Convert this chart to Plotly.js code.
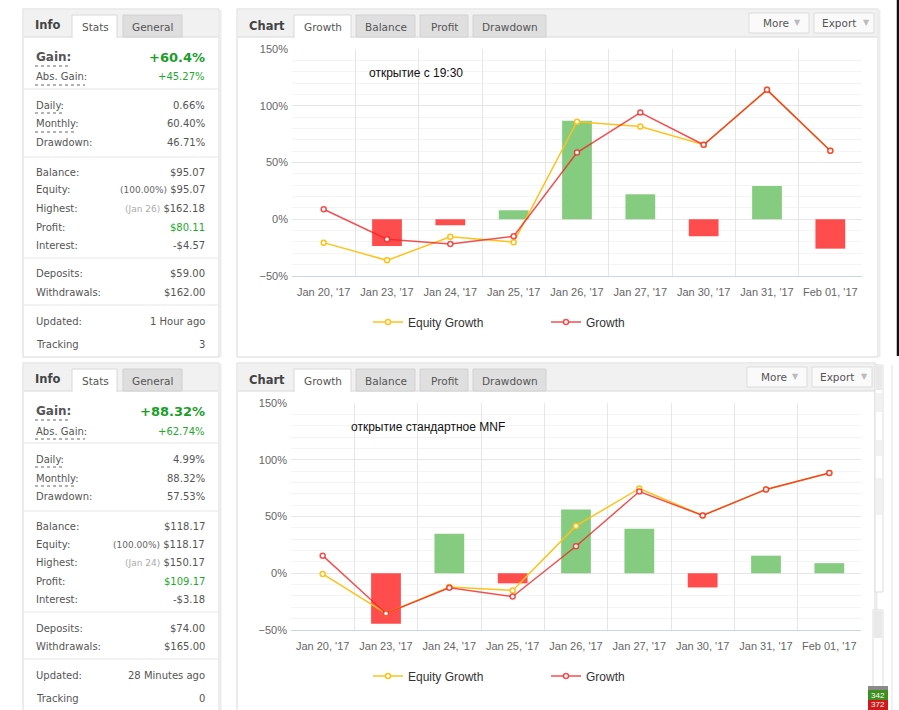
<!DOCTYPE html>
<html>
<head>
<meta charset="utf-8">
<script src="https://cdn.plot.ly/plotly-3.0.1.min.js"></script>
<style>
  html, body { margin: 0; padding: 0; background: #ffffff; }
  #board { width: 899px; height: 710px; }
</style>
</head>
<body>
<div id="board"></div>
<script>
// ---- data -------------------------------------------------------------
const dates = ["Jan 20, '17", "Jan 23, '17", "Jan 24, '17", "Jan 25, '17", "Jan 26, '17",
               "Jan 27, '17", "Jan 30, '17", "Jan 31, '17", "Feb 01, '17"];

// account opened at 19:30
const upperDaily  = [null, -23.6, -5.3, 7.9, 86.8, 22.0, -15.0, 29.4, -25.9];
const upperGrowth = [8.8, -17.6, -21.8, -15.0, 58.8, 94.0, 65.6, 114.0, 60.4];
const upperEquity = [-20.6, -36.2, -15.5, -20.2, 85.9, 81.8, 65.6, 114.0, 60.4];
const upperNote   = 'открытие с 19:30';

// account opened the standard MNF way
const lowerDaily  = [null, -44.6, 34.8, -8.9, 56.2, 39.3, -12.5, 15.5, 8.9];
const lowerGrowth = [15.5, -35.4, -12.8, -20.5, 23.8, 72.0, 50.9, 73.8, 88.3];
const lowerEquity = [-0.6, -35.4, -12.2, -15.2, 41.7, 74.7, 50.9, 73.8, 88.3];
const lowerNote   = 'открытие стандартное MNF';

const statLabels = ['Abs. Gain:', 'Daily:', 'Monthly:', 'Drawdown:', 'Balance:', 'Equity:', 'Highest:',
                    'Profit:', 'Interest:', 'Deposits:', 'Withdrawals:', 'Updated:', 'Tracking'];
const upperGain   = '+60.4%';
const upperValues = ['+45.27%', '0.66%', '60.40%', '46.71%', '$95.07', '$95.07', '$162.18',
                     '$80.11', '-$4.57', '$59.00', '$162.00', '1 Hour ago', '3'];
const upperNotes  = ['(100.00%)', '(Jan 26)'];
const lowerGain   = '+88.32%';
const lowerValues = ['+62.74%', '4.99%', '88.32%', '57.53%', '$118.17', '$118.17', '$150.17',
                     '$109.17', '-$3.18', '$74.00', '$165.00', '28 Minutes ago', '0'];
const lowerNotes  = ['(100.00%)', '(Jan 24)'];

const panelTabs = ['Stats', 'General'];
const chartTabs = ['Growth', 'Balance', 'Profit', 'Drawdown'];
const seriesNames = ['Equity Growth', 'Growth'];

// ---- helpers (pixel -> paper) ------------------------------------------
const W = 899, H = 710;
const X = p => p / W;
const Y = p => 1 - p / H;
const PANEL_FONT = 'DejaVu Sans, Verdana, sans-serif';
const CHART_FONT = 'Liberation Sans, Arial, sans-serif';

const GREEN = '#86cc80', RED = '#ff4d4d';
const EQ_COLOR = '#ffc21a', GR_COLOR = 'rgba(240,38,38,0.8)';

const shapes = [];
const notes = [];

function rect(x0, y0, x1, y1, fill, stroke) {
  shapes.push({type: 'rect', xref: 'paper', yref: 'paper', layer: 'below',
    x0: X(x0), x1: X(x1), y0: Y(y1), y1: Y(y0),
    fillcolor: fill, line: {color: stroke || fill, width: stroke ? 1 : 0}});
}
function line(x0, y0, x1, y1, color, width, dash) {
  shapes.push({type: 'line', xref: 'paper', yref: 'paper', layer: 'below',
    x0: X(x0), x1: X(x1), y0: Y(y0), y1: Y(y1),
    line: {color: color, width: width || 1, dash: dash || 'solid'}});
}
function text(str, x, y, o) {
  o = o || {};
  notes.push({xref: 'paper', yref: 'paper', x: X(x), y: Y(y), text: str, showarrow: false,
    xanchor: o.xa || 'left', yanchor: 'middle', borderpad: 0,
    font: {family: o.family || PANEL_FONT, size: o.size || 10, color: o.color || '#555',
           weight: o.bold ? 'bold' : 'normal'}});
}

// ---- side panel with the account figures --------------------------------
const rowY = [77, 105, 124, 143, 172, 190, 208, 227, 245, 274, 292, 321, 344];
const separators = [89, 157, 258, 305];
const underlined = {0: 50, 1: 27, 2: 42};   // dotted underline lengths for Abs. Gain, Daily, Monthly

function statsPanel(dy, bottom, gain, values, extra) {
  rect(23, 9 + dy, 219, bottom, '#ffffff', '#d8d8d8');
  line(220.5, 10 + dy, 220.5, bottom, '#ececec', 2);
  rect(24, 10 + dy, 218, 37 + dy, '#f1f1f1');
  line(24, 37 + dy, 218, 37 + dy, '#d8d8d8', 1);
  // tabs
  rect(123, 15 + dy, 182, 37 + dy, '#dedede', '#d0d0d0');
  rect(72, 15 + dy, 117, 38 + dy, '#ffffff');
  line(72, 38 + dy, 72, 15 + dy, '#d8d8d8', 1);
  line(72, 15 + dy, 117, 15 + dy, '#d8d8d8', 1);
  line(117, 15 + dy, 117, 38 + dy, '#d8d8d8', 1);
  text('Info', 34, 25 + dy, {bold: true, size: 11.5, color: '#444'});
  text(panelTabs[0], 95, 27 + dy, {xa: 'center', size: 10.5});
  text(panelTabs[1], 152, 27 + dy, {xa: 'center', size: 10.5});

  // headline gain
  text('Gain:', 35, 57 + dy, {bold: true, size: 12, color: '#555'});
  line(35, 66 + dy, 70, 66 + dy, '#666', 1, 'dot');
  text(gain, 206, 57 + dy, {xa: 'right', bold: true, size: 13, color: '#1a9e2a'});

  separators.forEach(s => line(24, s + dy, 218, s + dy, '#e6e6e6', 1));

  statLabels.forEach((lab, i) => {
    const y = rowY[i] + dy;
    text(lab, 35, y);
    if (underlined[i] !== undefined) line(35, y + 8, 35 + underlined[i], y + 8, '#666', 1, 'dot');
    let v = values[i];
    let color = '#555';
    if (i === 0 || lab === 'Profit:') color = '#1ea82e';
    if (lab === 'Equity:') v = '<span style="font-size:9px;color:#666">' + extra[0] + '</span> ' + v;
    if (lab === 'Highest:') v = '<span style="font-size:9px;color:#aaa">' + extra[1] + '</span> ' + v;
    text(v, 206, y, {xa: 'right', color: color});
  });
}

// ---- chart frame with tabs and buttons -----------------------------------
function chartFrame(dy, bottom, right, exportRight, note, noteX) {
  rect(237, 9 + dy, right, bottom, '#ffffff', '#d8d8d8');
  line(right + 1.5, 10 + dy, right + 1.5, bottom, '#ececec', 2);
  rect(238, 10 + dy, right - 1, 37 + dy, '#f1f1f1');
  line(238, 37 + dy, right - 1, 37 + dy, '#d8d8d8', 1);
  const tabX = [[294, 351], [356, 415], [420, 468], [473, 546]];
  tabX.forEach((t, i) => {
    if (i === 0) {
      rect(t[0], 15 + dy, t[1], 38 + dy, '#ffffff');
      line(t[0], 38 + dy, t[0], 15 + dy, '#d8d8d8', 1);
      line(t[0], 15 + dy, t[1], 15 + dy, '#d8d8d8', 1);
      line(t[1], 15 + dy, t[1], 38 + dy, '#d8d8d8', 1);
    } else {
      rect(t[0], 15 + dy, t[1], 37 + dy, '#dfdfdf', '#d2d2d2');
    }
    text(chartTabs[i], (t[0] + t[1]) / 2, 27 + dy, {xa: 'center', size: 10.5});
  });
  text('Chart', 248, 26 + dy, {bold: true, size: 11.5, color: '#444'});
  // More / Export buttons
  const exL = exportRight - 60;
  rect(exportRight - 125, 13 + dy, exportRight - 65, 33 + dy, '#fafafa', '#dcdcdc');
  rect(exL, 13 + dy, exportRight, 33 + dy, '#fafafa', '#dcdcdc');
  text('More', exportRight - 112, 23 + dy, {size: 10.5});
  text('▼', exportRight - 72, 23 + dy, {xa: 'right', size: 8, color: '#bbb'});
  text('Export', exL + 7, 23 + dy, {size: 10.5});
  text('▼', exportRight - 3, 23 + dy, {xa: 'right', size: 8, color: '#bbb'});
  // caption inside the plot
  text(note, noteX, 73 + dy, {family: CHART_FONT, size: 12, color: '#111'});
}

statsPanel(0, 357, upperGain, upperValues, upperNotes);
statsPanel(354, 715, lowerGain, lowerValues, lowerNotes);
chartFrame(0, 357, 878, 874, upperNote, 368);
chartFrame(354, 715, 875, 872, lowerNote, 350);

// neighbouring window edges on the right
line(898, 0, 898, 356, '#111111', 2.5);
rect(875, 365, 883, 592, '#ffffff', '#dddddd');
rect(876, 366, 882, 390, '#e9e9e9');
rect(876, 393, 882, 412, '#f1f1f1');
rect(876, 440, 882, 456, '#f1f1f1');
rect(876, 478, 882, 515, '#f1f1f1');
line(892, 365, 892, 710, '#e3e3e3', 1);
rect(873, 610, 883, 710, '#ffffff', '#dddddd');
rect(874, 611, 882, 638, '#e9e9e9');
rect(868, 686, 888, 690, '#8a8a8a');
rect(868, 690, 888, 700, '#3f8f1f');
rect(868, 700, 888, 712, '#d01818');
text('342', 878, 695, {xa: 'center', size: 8, color: '#ffffff', family: CHART_FONT});
text('372', 878, 704.5, {xa: 'center', size: 8, color: '#ffffff', family: CHART_FONT});

// ---- traces --------------------------------------------------------------
function seriesFor(daily, growth, equity, xa, ya, legendId) {
  return [
    {type: 'bar', x: dates, y: daily, xaxis: xa, yaxis: ya, width: 0.47, showlegend: false,
     marker: {color: daily.map(v => (v !== null && v < 0) ? RED : GREEN), line: {width: 0}},
     hoverinfo: 'skip'},
    {type: 'scatter', mode: 'lines+markers', name: seriesNames[0], x: dates, y: equity,
     xaxis: xa, yaxis: ya, legend: legendId,
     line: {color: EQ_COLOR, width: 1.5},
     marker: {symbol: 'circle', size: 5, color: '#ffffff', line: {color: EQ_COLOR, width: 1.5}}},
    {type: 'scatter', mode: 'lines+markers', name: seriesNames[1], x: dates, y: growth,
     xaxis: xa, yaxis: ya, legend: legendId,
     line: {color: GR_COLOR, width: 1.5},
     marker: {symbol: 'circle', size: 5, color: '#ffffff', line: {color: GR_COLOR, width: 1.5}}}
  ];
}

const data = [].concat(
  seriesFor(upperDaily, upperGrowth, upperEquity, 'x', 'y', 'legend'),
  seriesFor(lowerDaily, lowerGrowth, lowerEquity, 'x2', 'y2', 'legend2')
);

function xAxis(left, right, anchor) {
  return {domain: [X(left), X(right)], anchor: anchor, type: 'category', range: [-0.5, 8.5],
    tickson: 'boundaries', showgrid: true, gridcolor: '#e6e6e6', gridwidth: 1,
    ticks: '', ticklabelstandoff: 6, showline: true, linecolor: '#ccd6eb', linewidth: 1,
    zeroline: false, fixedrange: true,
    tickfont: {family: CHART_FONT, size: 11, color: '#666666'}};
}
function yAxis(bottom, top, anchor) {
  return {domain: [Y(bottom), Y(top)], anchor: anchor, range: [-50, 150], tick0: 0, dtick: 50,
    ticksuffix: '%', showgrid: true, gridcolor: '#e6e6e6', gridwidth: 1, zeroline: false,
    showline: false, ticks: '', ticklabelstandoff: 3, fixedrange: true,
    minor: {dtick: 10, tick0: 0, showgrid: true, gridcolor: '#f4f4f4', gridwidth: 1},
    tickfont: {family: CHART_FONT, size: 11, color: '#666666'}};
}
function legendAt(y) {
  return {orientation: 'h', x: X(368), y: Y(y), xanchor: 'left', yanchor: 'middle',
    bgcolor: 'rgba(0,0,0,0)', borderwidth: 0, entrywidth: 133, entrywidthmode: 'pixels',
    font: {family: CHART_FONT, size: 12, color: '#333333'}, itemclick: false, itemdoubleclick: false};
}

const layout = {
  width: W, height: H, autosize: false,
  margin: {l: 0, r: 0, t: 0, b: 0, pad: 0},
  paper_bgcolor: '#ffffff', plot_bgcolor: 'rgba(0,0,0,0)',
  font: {family: CHART_FONT},
  barmode: 'overlay', hovermode: false,
  xaxis: xAxis(292, 862, 'y'),
  yaxis: yAxis(276, 49, 'x'),
  xaxis2: xAxis(291, 861, 'y2'),
  yaxis2: yAxis(630, 403, 'x2'),
  legend: legendAt(322),
  legend2: legendAt(676),
  shapes: shapes,
  annotations: notes
};

Plotly.newPlot('board', data, layout, {displayModeBar: false, staticPlot: true});
</script>
</body>
</html>
